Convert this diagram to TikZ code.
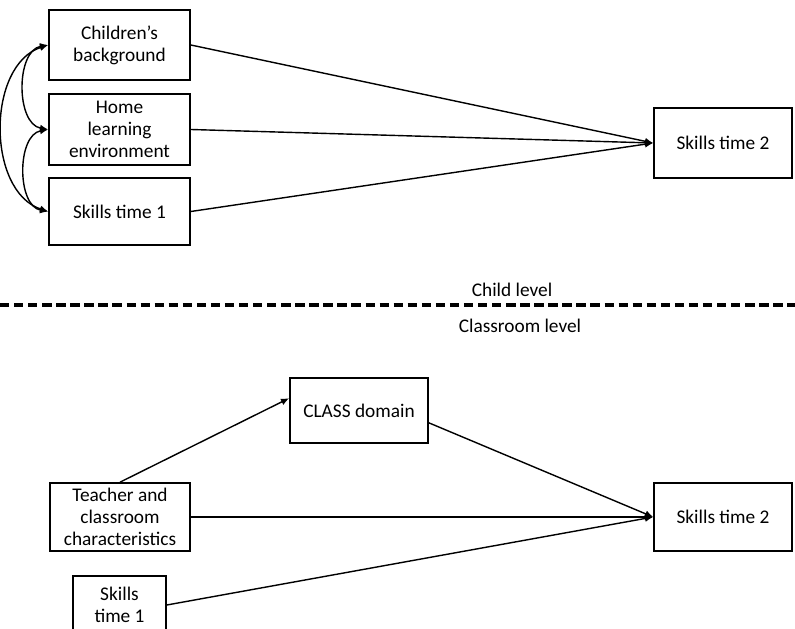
\documentclass[tikz,border=0pt]{standalone}
\usepackage{fontspec}
\setmainfont{Carlito}
\usetikzlibrary{%
  arrows,%
  arrows.meta,%
  calc%
}
\tikzset{>={Latex[length=7pt,width=6pt]}}
\tikzset{
  box/.style={draw,line width=1.4pt,align=center,inner sep=1pt,
    minimum width=4.23cm,minimum height=2.1cm,
    font=\fontsize{16.5}{19}\selectfont},
  path/.style={->,line width=1.2pt},
  corr/.style={<->,line width=1.2pt},
  lvl/.style={font=\fontsize{16.5}{19}\selectfont}
}

\begin{document}
\begin{tikzpicture}[x=0.03cm,y=0.03cm]
    \useasboundingbox (0,0) rectangle (795,-629);
    \node[box] (cb) at (119.5,-45) {Children's\\background};
    \node[box,minimum height=2.13cm] (hle) at (119.5,-129.5) {Home\\learning\\environment};
    \node[box,minimum height=2.01cm] (st1) at (119.5,-211.5) {Skills time 1};
    \node[box,minimum width=4.14cm] (st2) at (723,-143) {Skills time 2};
    \draw[path] (cb.east) -- (st2.west);
    \draw[path] (hle.east) -- (st2.west);
    \draw[path] (st1.east) -- (st2.west);
    \draw[corr] (cb.west) to[out=190,in=170] (hle.west);
    \draw[corr] (hle.west) to[out=190,in=170] (st1.west);
    \draw[corr] (cb.west) to[out=198,in=162] (st1.west);
    \node[lvl] (child) at (512,-290) {Child level};
    \coordinate (dl) at (0,-305);
    \coordinate (dr) at (795,-305);
    \draw[line width=2.6pt,dash pattern=on 8pt off 4pt] (dl) -- (dr);
    \node[lvl] (room) at (520,-326) {Classroom level};
    \node[box,minimum width=4.14cm,minimum height=1.95cm] (cls) at (359,-410.5) {CLASS domain};
    \node[box,minimum width=4.2cm,minimum height=2.04cm] (tcc) at (120,-517) {Teacher and\\classroom\\characteristics};
    \node[box,minimum width=4.14cm,minimum height=2.04cm] (st2b) at (723,-517) {Skills time 2};
    \node[box,minimum width=2.79cm,minimum height=1.74cm] (st1b) at (119.5,-605) {Skills\\time 1};
    \draw[path] (tcc.north) -- (cls.170);
    \draw[path] (cls.-10) -- (st2b.west);
    \draw[path] (tcc.east) -- (st2b.west);
    \draw[path] (st1b.east) -- (st2b.west);
  \end{tikzpicture}
\end{document}
